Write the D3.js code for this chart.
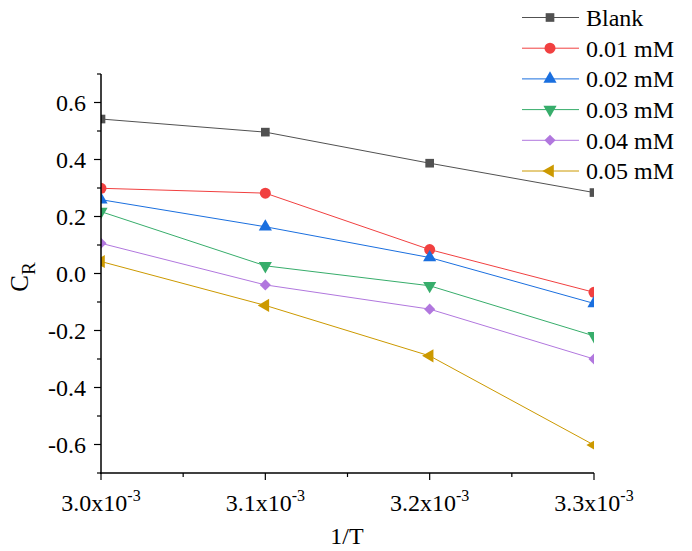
<!DOCTYPE html>
<html>
<head>
<meta charset="utf-8">
<script src="https://cdn.jsdelivr.net/npm/d3@7"></script>
<style>
  body { margin: 0; background: #fff; }
  text { font-family: "Liberation Serif", "Times New Roman", serif; fill: #000; }
</style>
</head>
<body>
<svg id="chart" width="692" height="551"></svg>
<script>
const xValues = [3.0e-3, 3.1e-3, 3.2e-3, 3.3e-3];
const seriesNames = ["Blank", "0.01 mM", "0.02 mM", "0.03 mM", "0.04 mM", "0.05 mM"];
const blank = [0.542, 0.496, 0.387, 0.284];
const c001 = [0.299, 0.282, 0.084, -0.066];
const c002 = [0.259, 0.164, 0.056, -0.105];
const c003 = [0.217, 0.027, -0.043, -0.219];
const c004 = [0.106, -0.040, -0.125, -0.300];
const c005 = [0.042, -0.112, -0.289, -0.602];
const xTicks = [3.0e-3, 3.1e-3, 3.2e-3, 3.3e-3];
const yTicks = [-0.6, -0.4, -0.2, 0.0, 0.2, 0.4, 0.6];

const colors = ["#515151", "#F14040", "#1A6FDF", "#37AD6B", "#B177DE", "#CC9900"];
const allSeries = [blank, c001, c002, c003, c004, c005];

// marker: [symbol type, area, rotation]
const markers = [
  [d3.symbolSquare, 75, 0],
  [d3.symbolCircle, 95, 0],
  [d3.symbolTriangle, 75, 0],
  [d3.symbolTriangle, 75, 180],
  [d3.symbolSquare, 62, 45],
  [d3.symbolTriangle, 75, -90],
];

const svg = d3.select("#chart");
const mLeft = 101, mRight = 594, mTop = 74, mBottom = 473;

const x = d3.scaleLinear().domain([3.0e-3, 3.3e-3]).range([mLeft, mRight]);
const y = d3.scaleLinear().domain([-0.7, 0.7]).range([mBottom, mTop]);

svg.append("defs").append("clipPath").attr("id", "plotclip")
  .append("rect")
  .attr("x", mLeft).attr("y", mTop)
  .attr("width", mRight - mLeft).attr("height", mBottom - mTop);

const plot = svg.append("g").attr("clip-path", "url(#plotclip)");

const line = d3.line().x((d, i) => x(xValues[i])).y(d => y(d));

allSeries.forEach((vals, s) => {
  plot.append("path")
    .attr("d", line(vals))
    .attr("fill", "none")
    .attr("stroke", colors[s])
    .attr("stroke-width", 1);
});

function symPath(s) {
  return d3.symbol().type(markers[s][0]).size(markers[s][1])();
}

allSeries.forEach((vals, s) => {
  plot.selectAll(null)
    .data(vals)
    .join("path")
    .attr("d", symPath(s))
    .attr("fill", colors[s])
    .attr("transform", (d, i) => `translate(${x(xValues[i])},${y(d)}) rotate(${markers[s][2]})`);
});

// y axis
const yAxis = svg.append("g").attr("transform", `translate(${mLeft},0)`);
yAxis.append("line").attr("x1", 0).attr("x2", 0).attr("y1", mTop).attr("y2", mBottom + 1)
  .attr("stroke", "#000").attr("stroke-width", 1.5);
const yMinor = d3.range(-7, 8).filter(v => Math.abs(v) % 2 === 1).map(v => v / 10);
yAxis.selectAll(".ymin").data(yMinor).join("line")
  .attr("x1", -4).attr("x2", 0).attr("y1", d => y(d)).attr("y2", d => y(d))
  .attr("stroke", "#000").attr("stroke-width", 1.2);
yAxis.selectAll(".ymaj").data(yTicks).join("line")
  .attr("x1", -7).attr("x2", 0).attr("y1", d => y(d)).attr("y2", d => y(d))
  .attr("stroke", "#000").attr("stroke-width", 1.2);
yAxis.selectAll(".ylab").data(yTicks).join("text")
  .attr("x", -15).attr("y", d => y(d)).attr("dy", "0.36em")
  .attr("text-anchor", "end").attr("font-size", 24)
  .text(d => d3.format(".1f")(d).replace("−", "-"));

// x axis
const xAxis = svg.append("g").attr("transform", `translate(0,${mBottom})`);
xAxis.append("line").attr("x1", mLeft - 1).attr("x2", mRight).attr("y1", 0).attr("y2", 0)
  .attr("stroke", "#000").attr("stroke-width", 1.5);
const xMinor = [3.05e-3, 3.15e-3, 3.25e-3];
xAxis.selectAll(".xmin").data(xMinor).join("line")
  .attr("x1", d => x(d)).attr("x2", d => x(d)).attr("y1", 0).attr("y2", 4)
  .attr("stroke", "#000").attr("stroke-width", 1.2);
xAxis.selectAll(".xmaj").data(xTicks).join("line")
  .attr("x1", d => x(d)).attr("x2", d => x(d)).attr("y1", 0).attr("y2", 7)
  .attr("stroke", "#000").attr("stroke-width", 1.2);
const xl = xAxis.selectAll(".xlab").data(xTicks).join("text")
  .attr("x", d => x(d)).attr("y", 38)
  .attr("text-anchor", "middle").attr("font-size", 24);
xl.append("tspan").text(d => (d * 1000).toFixed(1) + "x10");
xl.append("tspan").attr("font-size", 16).attr("dy", -10).text("-3");

// axis titles
svg.append("text")
  .attr("x", 347).attr("y", 544)
  .attr("text-anchor", "middle").attr("font-size", 24)
  .text("1/T");

const yt = svg.append("text")
  .attr("transform", `translate(28,277) rotate(-90)`)
  .attr("text-anchor", "middle").attr("font-size", 25);
yt.append("tspan").text("C");
yt.append("tspan").attr("font-size", 19).attr("dy", 7).text("R");

// legend
const legend = svg.append("g");
seriesNames.forEach((name, s) => {
  const ly = 17.5 + s * 30.7;
  legend.append("line").attr("x1", 522).attr("x2", 579).attr("y1", ly).attr("y2", ly)
    .attr("stroke", colors[s]).attr("stroke-width", 1);
  legend.append("path").attr("d", symPath(s)).attr("fill", colors[s])
    .attr("transform", `translate(550,${ly}) rotate(${markers[s][2]})`);
  legend.append("text").attr("x", 586).attr("y", ly).attr("dy", "0.35em")
    .attr("font-size", 24).text(name);
});
</script>
</body>
</html>
